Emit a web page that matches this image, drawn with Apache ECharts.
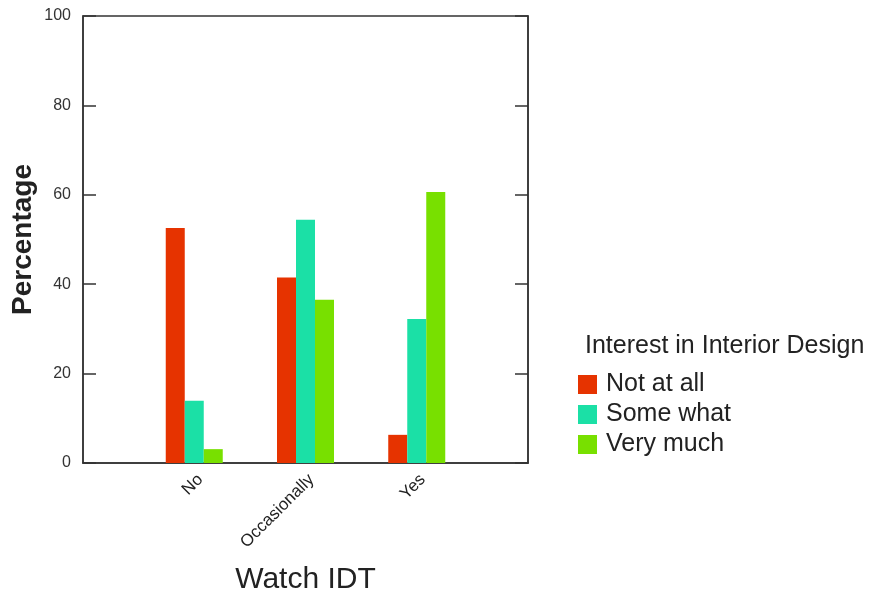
<!DOCTYPE html>
<html><head><meta charset="utf-8">
<script src="https://cdn.jsdelivr.net/npm/echarts@6/dist/echarts.min.js"></script>
<style>html,body{margin:0;padding:0;background:#fff}#c{width:870px;height:592px}</style>
</head><body><div id="c"></div>
<script>
var categories = ['', 'No', 'Occasionally', 'Yes', ''];
var seriesNames = ['Not at all', 'Some what', 'Very much'];
var notAtAll = [null, 52.6, 41.5, 6.3, null];
var someWhat = [null, 13.9, 54.4, 32.2, null];
var veryMuch = [null, 3.1, 36.5, 60.6, null];
var yTicks = [0, 20, 40, 60, 80, 100];
var colors = ['#E63300', '#1BE0A6', '#78E000'];
var FONT = 'Liberation Sans, Arial, sans-serif';

var chart = echarts.init(document.getElementById('c'));
var values = [notAtAll, someWhat, veryMuch];
var yAxisBase = {
  type: 'value', min: yTicks[0], max: yTicks[yTicks.length - 1], interval: 20,
  splitLine: {show: false},
  axisLine: {show: true, lineStyle: {color: '#333', width: 1.5}},
  axisTick: {show: true, inside: true, length: 13, lineStyle: {color: '#333', width: 1.5}}
};
chart.setOption({
  backgroundColor: '#fff',
  animation: false,
  title: {
    text: 'Interest in Interior Design', left: 580, top: 329,
    textStyle: {fontFamily: FONT, fontSize: 25, fontWeight: 'normal', color: '#222'}
  },
  legend: {
    orient: 'vertical', left: 573, top: 367, itemWidth: 19, itemHeight: 19, itemGap: 5,
    icon: 'rect', data: seriesNames,
    textStyle: {fontFamily: FONT, fontSize: 25, color: '#222', padding: [0, 0, 0, 4]}
  },
  grid: {left: 83, right: 342, top: 16, bottom: 129, show: true, borderColor: '#333', borderWidth: 1.5,
         containLabel: false, outerBoundsMode: 'none'},
  xAxis: {
    type: 'category', data: categories, boundaryGap: false,
    axisLine: {show: true, lineStyle: {color: '#333', width: 1.5}},
    axisTick: {show: false},
    axisLabel: {rotate: 45, fontFamily: FONT, fontSize: 17, color: '#222', margin: 8, interval: 0, verticalAlign: 'top'},
    name: 'Watch IDT', nameLocation: 'middle', nameGap: 102,
    nameTextStyle: {fontFamily: FONT, fontSize: 30, color: '#222'}
  },
  yAxis: [
    Object.assign({}, yAxisBase, {
      position: 'left',
      axisLabel: {fontFamily: FONT, fontSize: 16, color: '#333', margin: 12},
      name: 'Percentage', nameLocation: 'middle', nameGap: 46, nameMoveOverlap: false,
      nameTextStyle: {fontFamily: FONT, fontSize: 28, fontWeight: 'bold', color: '#222'}
    }),
    Object.assign({}, yAxisBase, {position: 'right', axisLabel: {show: false}})
  ],
  series: seriesNames.map(function (n, i) {
    return {
      name: n, type: 'bar', data: values[i], barWidth: 19, barGap: '0%',
      itemStyle: {color: colors[i]}
    };
  })
});
</script></body></html>
